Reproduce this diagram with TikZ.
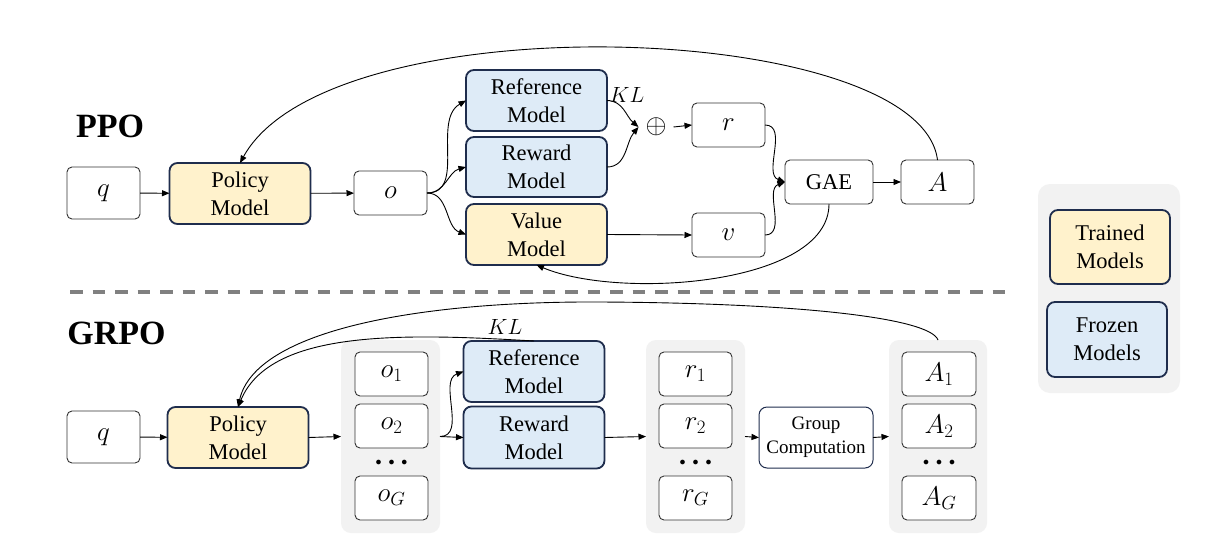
\RequirePackage{fix-cm}
\documentclass[tikz,border=0pt]{standalone}
\usepackage{fontspec}
\setmainfont{Liberation Serif}
\usetikzlibrary{arrows.meta}
\definecolor{ylw}{HTML}{FFF2CC}
\definecolor{blu}{HTML}{DEEBF7}
\definecolor{navy}{HTML}{1F2D4D}
\definecolor{grpgray}{HTML}{F2F2F2}
\definecolor{dashgray}{HTML}{808080}
\newcommand\mfont{\fontsize{27}{31}\selectfont}
\newcommand\tfont{\fontsize{22.5}{27.7}\selectfont}
\newcommand\kfont{\fontsize{22}{26}\selectfont}
\newcommand\sfont{\fontsize{19}{24}\selectfont}
\newcommand\dfont{\fontsize{12}{14}\selectfont}
\newcommand\pfont{\fontsize{27}{30}\selectfont}
\newcommand\ttlfont{\fontsize{34}{40}\selectfont\bfseries}
\newcommand\mydots{$\bullet$\hspace{7pt}$\bullet$\hspace{7pt}$\bullet$}
\begin{document}
\begin{tikzpicture}[x=1pt,y=-1pt,
 every node/.style={inner sep=0pt, outer sep=0pt},
 conn/.style={line width=0.9pt, -{Triangle[length=7.5pt,width=6pt]}},
 plain/.style={draw=black!80, line width=0.9pt, rounded corners=5pt, fill=white, minimum width=73pt, minimum height=44pt, font=\mfont},
 model/.style={draw=navy, line width=1.8pt, rounded corners=8pt, align=center, font=\tfont, minimum width=141pt, minimum height=61pt},
 trained/.style={model, fill=ylw},
 frozen/.style={model, fill=blu},
 grpbg/.style={fill=grpgray, rounded corners=10pt, minimum width=99pt, minimum height=193pt},
 ttl/.style={font=\ttlfont},
 dotsty/.style={font=\dfont},
 lbl/.style={font=\kfont},
]
\fill[white] (0,0) rectangle (1225,557);
\useasboundingbox (0,0) rectangle (1225,557);

% ---------- PPO ----------
\node[ttl] (ppo) at (110,126) {PPO};
\node[plain, minimum height=52pt] (qP) at (103.5,193) {$q$};
\node[trained] (polP) at (240,193.5) {Policy\\Model};
\node[plain] (oP) at (390.5,193) {$o$};
\node[frozen] (refP) at (536.5,100.5) {Reference\\Model};
\node[frozen, minimum height=60pt] (rewP) at (536.5,167) {Reward\\Model};
\node[trained] (valP) at (536.5,234.5) {Value\\Model};
\node[font=\pfont, outer sep=7pt] (plus) at (656,127) {$\oplus$};
\node[lbl] (klP) at (627,94.5) {$KL$};
\node[plain] (rP) at (728.5,125) {$r$};
\node[plain] (vP) at (728.5,235) {$v$};
\node[plain, minimum width=88pt, font=\tfont] (gae) at (829,182) {GAE};
\node[plain] (aP) at (937.5,182) {$A$};

\draw[conn] (qP) -- (polP);
\draw[conn] (polP) -- (oP);
\draw[conn] (oP.east) to[out=0,in=210] (refP.west);
\draw[conn] (oP.east) to[out=0,in=195] (rewP.west);
\draw[conn] (oP.east) to[out=0,in=160] (valP.west);
\draw[conn] (refP.east) to[out=0,in=140] (plus.west);
\draw[conn] (rewP.east) to[out=0,in=230] (plus.west);
\draw[conn] (plus.east) -- (rP.west);
\draw[conn] (valP.east) -- (vP.west);
\draw[conn] (rP.east) to[out=0,in=160] (gae.west);
\draw[conn] (vP.east) to[out=0,in=200] (gae.west);
\draw[conn] (gae) -- (aP);
\draw[conn] (aP.north) .. controls (920,20) and (330,0) .. (polP.north);
\draw[conn] (gae.south) .. controls (829,285) and (620,300) .. (valP.south);

% ---------- separator ----------
\coordinate (sepL) at (70,292);
\coordinate (sepR) at (1007,292);
\draw[dashgray, line width=3.3pt, dash pattern=on 12.7pt off 9.8pt] (sepL) -- (sepR);

% ---------- GRPO ----------
\node[ttl] (grpo) at (116.5,333.5) {GRPO};
\node[plain, minimum height=52pt] (qG) at (103.5,437) {$q$};
\node[trained] (polG) at (238,437.5) {Policy\\Model};

\node[grpbg] (oGrp) at (390.5,436.5) {};
\node[plain] (o1) at (391.5,374) {$o_1$};
\node[plain] (o2) at (391.5,426) {$o_2$};
\node[dotsty] (dO) at (391.5,463) {\mydots};
\node[plain] (oGn) at (391.5,498) {$o_G$};

\node[frozen] (refG) at (534,371.5) {Reference\\Model};
\node[frozen, minimum height=62pt] (rewG) at (534,437.5) {Reward\\Model};
\node[lbl] (klG) at (505,327) {$KL$};

\node[grpbg] (rGrp) at (695.5,436.5) {};
\node[plain] (r1) at (695.5,374) {$r_1$};
\node[plain] (r2) at (695.5,426) {$r_2$};
\node[dotsty] (dR) at (695.5,463) {\mydots};
\node[plain] (rGn) at (695.5,498) {$r_G$};

\node[draw=navy, line width=1pt, rounded corners=8pt, fill=white, align=center, font=\sfont, minimum width=114pt, minimum height=61pt] (gc) at (816,437.5) {Group\\Computation};

\node[grpbg, minimum width=98pt] (aGrp) at (938,436.5) {};
\node[plain, minimum width=74pt] (a1) at (939,374) {$A_1$};
\node[plain, minimum width=74pt] (a2) at (939,426) {$A_2$};
\node[dotsty] (dA) at (939,463) {\mydots};
\node[plain, minimum width=74pt] (aGn) at (939,498) {$A_G$};

\coordinate (arcTop) at (600,302);
\draw[conn] (qG) -- (polG);
\draw[conn] (polG.east) -- (oGrp.west);
\draw[conn] (oGrp.east) -- (rewG.west);
\draw[conn] (oGrp.east) to[out=0,in=200] (refG.west);
\draw[conn] (rewG.east) -- (rGrp.west);
\draw[conn] (rGrp.east) -- (gc.west);
\draw[conn] (gc.east) -- (aGrp.west);
\draw[conn] (aGrp.north) .. controls (930,318) and (800,303) .. (arcTop) .. controls (420,301) and (255,330) .. (polG.north);
\draw[conn] (refG.north) .. controls (400,333) and (270,330) .. (polG.north);

% ---------- legend ----------
\node[fill=grpgray, rounded corners=12pt, minimum width=142pt, minimum height=209pt] (leg) at (1109,288.5) {};
\node[trained, minimum width=120pt, minimum height=74pt] (legT) at (1110,247) {Trained\\Models};
\node[frozen, minimum width=120pt, minimum height=75pt] (legF) at (1107,339.5) {Frozen\\Models};
\end{tikzpicture}
\end{document}
